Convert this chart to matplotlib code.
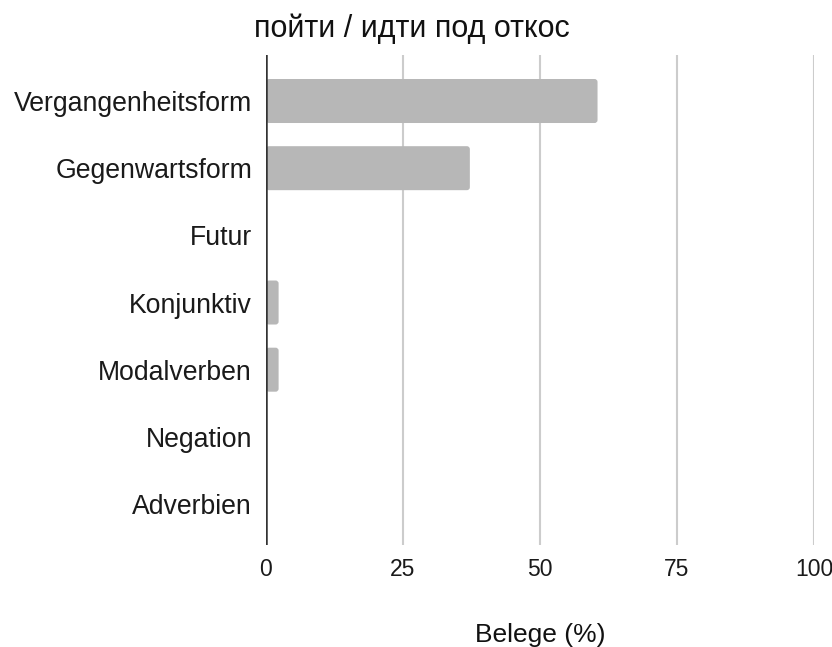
import matplotlib
matplotlib.use("Agg")
import matplotlib.pyplot as plt
from matplotlib.patches import FancyBboxPatch

categories = ["Vergangenheitsform", "Gegenwartsform", "Futur", "Konjunktiv",
              "Modalverben", "Negation", "Adverbien"]
values = [60.5, 37.2, 0, 2.3, 2.3, 0, 0]
xticks = [0, 25, 50, 75, 100]
title = "пойти / идти под откос"
xlabel = "Belege (%)"

plt.rcParams['font.family'] = ['Liberation Sans', 'DejaVu Sans']

W, H = 832, 647
fig = plt.figure(figsize=(W / 100, H / 100), dpi=100)
ax_w, ax_h = 548, 490
ax = fig.add_axes([266 / W, 1 - 545 / H, ax_w / W, ax_h / H])

pos = list(range(len(categories)))
bars = ax.barh(pos, values, height=0.655, color="#b7b7b7", zorder=2)

ax.set_xlim(0, 100)
ax.set_ylim(6.61, -0.685)

# rounded corners (~3 px)
xpp = 100 / ax_w
ypp = (6.61 + 0.685) / ax_h
r_px = 3
for b in bars:
    b.set_visible(False)
    w = b.get_width()
    if w <= 0:
        continue
    p = FancyBboxPatch((b.get_x(), b.get_y()), w, b.get_height(),
                       boxstyle=f"round,pad=0,rounding_size={r_px * xpp}",
                       mutation_aspect=ypp / xpp,
                       facecolor="#b7b7b7", edgecolor="none", zorder=2)
    ax.add_patch(p)

ax.set_xticks(xticks)
ax.set_xticklabels([str(t) for t in xticks], fontsize=16.5, color="#1a1a1a")
ax.set_yticks(pos)
ax.set_yticklabels(categories, fontsize=19.2, color="#1a1a1a")
ax.tick_params(axis="both", length=0)
ax.tick_params(axis="x", pad=9)
ax.tick_params(axis="y", pad=10)

for t in xticks[1:]:
    ax.axvline(t, color="#cccccc", linewidth=1.5, zorder=1)
ax.axvline(0, color="#333333", linewidth=1.8, zorder=3)

for s in ax.spines.values():
    s.set_visible(False)

fig.text(411.5 / W, 1 - 29 / H, title, ha="center", va="center", fontsize=22, color="#111111")
fig.text(540 / W, 1 - 635 / H, xlabel, ha="center", va="center", fontsize=19, color="#111111")

fig.savefig("out.png", dpi=100, facecolor="white")
